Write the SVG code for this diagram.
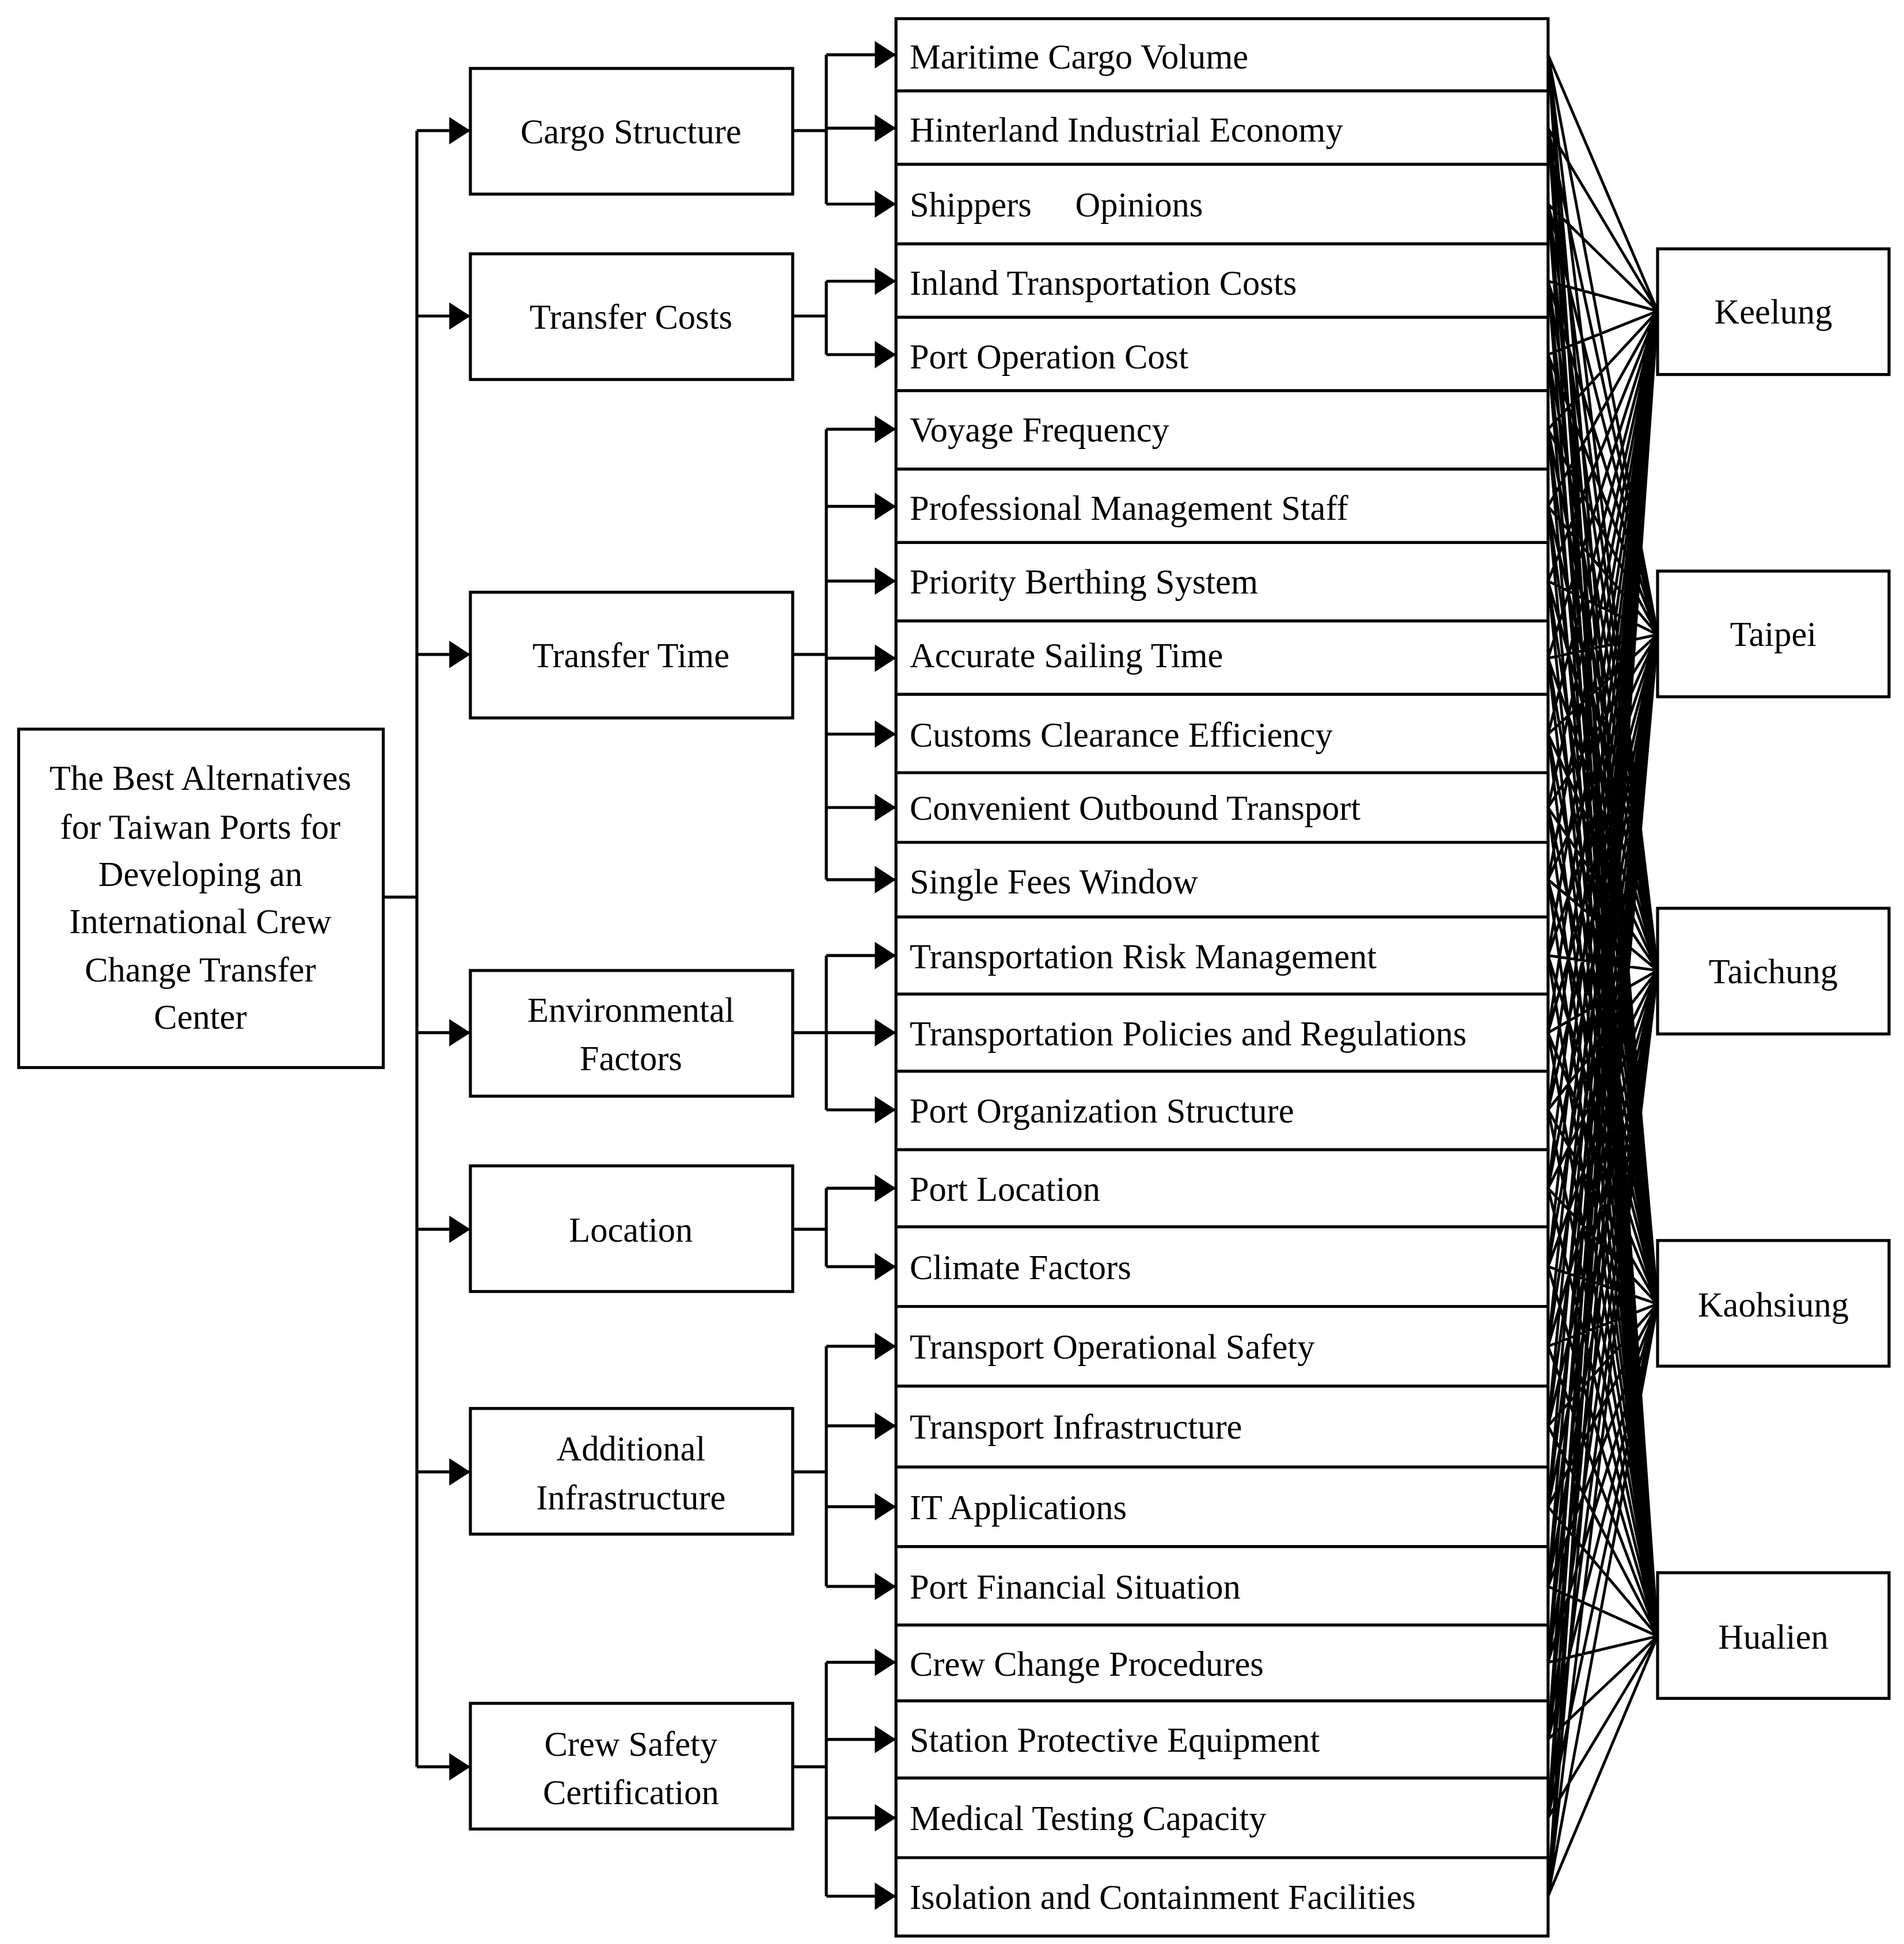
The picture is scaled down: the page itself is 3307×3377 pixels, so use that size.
<svg xmlns="http://www.w3.org/2000/svg" width="3307" height="3377" viewBox="0 0 3307 3377">
<style>
.b{fill:#fff;stroke:#000;stroke-width:2.4}
.t{font-family:"Liberation Serif",serif;font-size:28px;fill:#000}
.c{text-anchor:middle}
.l{stroke:#000;stroke-width:2.4;fill:none}
.f{stroke:#000;stroke-width:2.2;fill:none}
</style>
<defs>
<marker id="ah" viewBox="0 0 17 22" refX="17" refY="11" markerWidth="17" markerHeight="22" orient="auto" markerUnits="userSpaceOnUse"><path d="M0,0L17,11L0,22z"/></marker></defs>
<rect width="3307" height="3377" fill="#fff"/>
<g transform="scale(2.1614)">
<g id="connectors">
<path class="l" d="M308,721H335M335,105V1420"/>
<g class="l" marker-end="url(#ah)">
<path d="M335,105H378"/><path d="M335,254H378"/><path d="M335,526H378"/><path d="M335,830H378"/><path d="M335,988H378"/><path d="M335,1183H378"/><path d="M335,1420H378"/>
</g>
<path class="l" d="M637,105H664M664,44V164M637,254H664M664,226V285M637,526H664M664,345V707M637,830H664M664,768V892M637,988H664M664,955V1018M637,1183H664M664,1082V1275M637,1420H664M664,1336V1524"/>
<g class="l" marker-end="url(#ah)">
<path d="M664,44H720"/><path d="M664,103H720"/><path d="M664,164H720"/><path d="M664,226H720"/><path d="M664,285H720"/><path d="M664,345H720"/><path d="M664,407H720"/><path d="M664,467H720"/><path d="M664,529H720"/><path d="M664,590H720"/><path d="M664,649H720"/><path d="M664,707H720"/><path d="M664,768H720"/><path d="M664,830H720"/><path d="M664,892H720"/><path d="M664,955H720"/><path d="M664,1018H720"/><path d="M664,1082H720"/><path d="M664,1146H720"/><path d="M664,1211H720"/><path d="M664,1275H720"/><path d="M664,1336H720"/><path d="M664,1398H720"/><path d="M664,1461H720"/><path d="M664,1524H720"/>
</g>
</g>
<g id="root"><rect class="b" x="15" y="586" width="293" height="272"/>
<text class="t c" x="161" y="635">The Best Alternatives</text><text class="t c" x="161" y="674">for Taiwan Ports for</text><text class="t c" x="161" y="712">Developing an</text><text class="t c" x="161" y="750">International Crew</text><text class="t c" x="161" y="789">Change Transfer</text><text class="t c" x="161" y="827">Center</text></g>
<g id="cat1"><rect class="b" x="378" y="55" width="259" height="101"/><text class="t c" x="507" y="115">Cargo Structure</text></g>
<g id="cat2"><rect class="b" x="378" y="204" width="259" height="101"/><text class="t c" x="507" y="264">Transfer Costs</text></g>
<g id="cat3"><rect class="b" x="378" y="476" width="259" height="101"/><text class="t c" x="507" y="536">Transfer Time</text></g>
<g id="cat4"><rect class="b" x="378" y="780" width="259" height="101"/><text class="t c" x="507" y="821">Environmental</text><text class="t c" x="507" y="860">Factors</text></g>
<g id="cat5"><rect class="b" x="378" y="937" width="259" height="101"/><text class="t c" x="507" y="998">Location</text></g>
<g id="cat6"><rect class="b" x="378" y="1132" width="259" height="101"/><text class="t c" x="507" y="1174">Additional</text><text class="t c" x="507" y="1213">Infrastructure</text></g>
<g id="cat7"><rect class="b" x="378" y="1369" width="259" height="101"/><text class="t c" x="507" y="1411">Crew Safety</text><text class="t c" x="507" y="1450">Certification</text></g>
<g id="items">
<rect class="b" x="720" y="15" width="524" height="1541"/>
<path class="l" d="M720,73H1244M720,132H1244M720,196H1244M720,255H1244M720,314H1244M720,377H1244M720,436H1244M720,499H1244M720,558H1244M720,621H1244M720,677H1244M720,737H1244M720,799H1244M720,861H1244M720,924H1244M720,986H1244M720,1050H1244M720,1114H1244M720,1179H1244M720,1243H1244M720,1306H1244M720,1367H1244M720,1429H1244M720,1493H1244"/>
<text class="t" x="731" y="55">Maritime Cargo Volume</text>
<text class="t" x="731" y="114">Hinterland Industrial Economy</text>
<text class="t" x="731" y="174">Shippers<tspan x="864">Opinions</tspan></text>
<text class="t" x="731" y="237">Inland Transportation Costs</text>
<text class="t" x="731" y="296">Port Operation Cost</text>
<text class="t" x="731" y="355">Voyage Frequency</text>
<text class="t" x="731" y="418">Professional Management Staff</text>
<text class="t" x="731" y="477">Priority Berthing System</text>
<text class="t" x="731" y="536">Accurate Sailing Time</text>
<text class="t" x="731" y="600">Customs Clearance Efficiency</text>
<text class="t" x="731" y="659">Convenient Outbound Transport</text>
<text class="t" x="731" y="718">Single Fees Window</text>
<text class="t" x="731" y="778">Transportation Risk Management</text>
<text class="t" x="731" y="840">Transportation Policies and Regulations</text>
<text class="t" x="731" y="902">Port Organization Structure</text>
<text class="t" x="731" y="965">Port Location</text>
<text class="t" x="731" y="1028">Climate Factors</text>
<text class="t" x="731" y="1092">Transport Operational Safety</text>
<text class="t" x="731" y="1156">Transport Infrastructure</text>
<text class="t" x="731" y="1221">IT Applications</text>
<text class="t" x="731" y="1285">Port Financial Situation</text>
<text class="t" x="731" y="1347">Crew Change Procedures</text>
<text class="t" x="731" y="1408">Station Protective Equipment</text>
<text class="t" x="731" y="1471">Medical Testing Capacity</text>
<text class="t" x="731" y="1534">Isolation and Containment Facilities</text>
</g>
<g id="fanlines" class="f">
<path d="M1244,44L1332,250M1244,44L1332,510M1244,44L1332,780M1244,44L1332,1048M1244,44L1332,1315
M1244,103L1332,250M1244,103L1332,510M1244,103L1332,780M1244,103L1332,1048M1244,103L1332,1315
M1244,164L1332,250M1244,164L1332,510M1244,164L1332,780M1244,164L1332,1048M1244,164L1332,1315
M1244,226L1332,250M1244,226L1332,510M1244,226L1332,780M1244,226L1332,1048M1244,226L1332,1315
M1244,285L1332,250M1244,285L1332,510M1244,285L1332,780M1244,285L1332,1048M1244,285L1332,1315
M1244,345L1332,250M1244,345L1332,510M1244,345L1332,780M1244,345L1332,1048M1244,345L1332,1315
M1244,407L1332,250M1244,407L1332,510M1244,407L1332,780M1244,407L1332,1048M1244,407L1332,1315
M1244,467L1332,250M1244,467L1332,510M1244,467L1332,780M1244,467L1332,1048M1244,467L1332,1315
M1244,529L1332,250M1244,529L1332,510M1244,529L1332,780M1244,529L1332,1048M1244,529L1332,1315
M1244,590L1332,250M1244,590L1332,510M1244,590L1332,780M1244,590L1332,1048M1244,590L1332,1315
M1244,649L1332,250M1244,649L1332,510M1244,649L1332,780M1244,649L1332,1048M1244,649L1332,1315
M1244,707L1332,250M1244,707L1332,510M1244,707L1332,780M1244,707L1332,1048M1244,707L1332,1315
M1244,768L1332,250M1244,768L1332,510M1244,768L1332,780M1244,768L1332,1048M1244,768L1332,1315
M1244,830L1332,250M1244,830L1332,510M1244,830L1332,780M1244,830L1332,1048M1244,830L1332,1315
M1244,892L1332,250M1244,892L1332,510M1244,892L1332,780M1244,892L1332,1048M1244,892L1332,1315
M1244,955L1332,250M1244,955L1332,510M1244,955L1332,780M1244,955L1332,1048M1244,955L1332,1315
M1244,1018L1332,250M1244,1018L1332,510M1244,1018L1332,780M1244,1018L1332,1048M1244,1018L1332,1315
M1244,1082L1332,250M1244,1082L1332,510M1244,1082L1332,780M1244,1082L1332,1048M1244,1082L1332,1315
M1244,1146L1332,250M1244,1146L1332,510M1244,1146L1332,780M1244,1146L1332,1048M1244,1146L1332,1315
M1244,1211L1332,250M1244,1211L1332,510M1244,1211L1332,780M1244,1211L1332,1048M1244,1211L1332,1315
M1244,1275L1332,250M1244,1275L1332,510M1244,1275L1332,780M1244,1275L1332,1048M1244,1275L1332,1315
M1244,1336L1332,250M1244,1336L1332,510M1244,1336L1332,780M1244,1336L1332,1048M1244,1336L1332,1315
M1244,1398L1332,250M1244,1398L1332,510M1244,1398L1332,780M1244,1398L1332,1048M1244,1398L1332,1315
M1244,1461L1332,250M1244,1461L1332,510M1244,1461L1332,780M1244,1461L1332,1048M1244,1461L1332,1315
M1244,1524L1332,250M1244,1524L1332,510M1244,1524L1332,780M1244,1524L1332,1048M1244,1524L1332,1315"/>
</g>
<g id="keelung"><rect class="b" x="1332" y="200" width="186" height="101"/><text class="t c" x="1425" y="260">Keelung</text></g>
<g id="taipei"><rect class="b" x="1332" y="459" width="186" height="101"/><text class="t c" x="1425" y="519">Taipei</text></g>
<g id="taichung"><rect class="b" x="1332" y="730" width="186" height="101"/><text class="t c" x="1425" y="790">Taichung</text></g>
<g id="kaohsiung"><rect class="b" x="1332" y="997" width="186" height="101"/><text class="t c" x="1425" y="1058">Kaohsiung</text></g>
<g id="hualien"><rect class="b" x="1332" y="1264" width="186" height="101"/><text class="t c" x="1425" y="1325">Hualien</text></g>
</g>
</svg>
